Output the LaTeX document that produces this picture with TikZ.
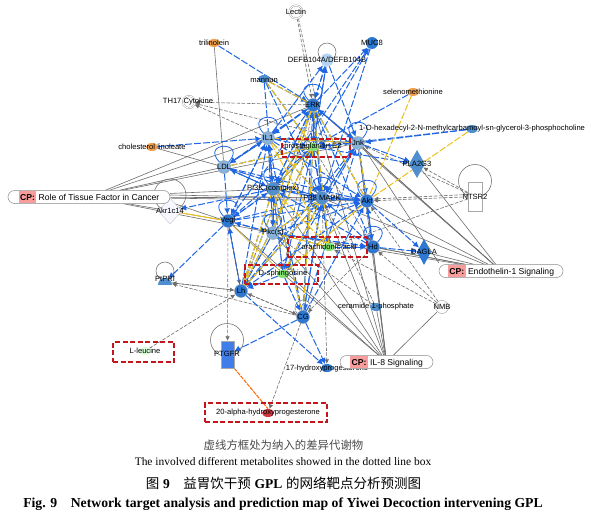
\documentclass[tikz,border=0pt]{standalone}
\usepackage{fontspec}
\setmainfont{Liberation Sans}
\newfontfamily\tnr{Liberation Serif}
\newfontfamily\cjkf{Noto Sans CJK SC}
\usetikzlibrary{shapes.geometric,arrows.meta,backgrounds}
\definecolor{bluee}{HTML}{1F66E5}
\definecolor{yell}{HTML}{EDC21A}
\definecolor{graye}{HTML}{6E6E6E}
\definecolor{dk}{HTML}{2C78D2}
\definecolor{md}{HTML}{4F8FD0}
\definecolor{lt}{HTML}{86B2DC}
\definecolor{vl}{HTML}{B4D4F2}
\definecolor{org}{HTML}{F0A050}
\definecolor{grn}{HTML}{80E070}
\definecolor{redb}{HTML}{C4141C}
\definecolor{cppink}{HTML}{F99C9C}
\tikzset{
  ball/.style={circle,inner sep=0pt,minimum size=#1,draw=graye!70,line width=.3pt},
  oval/.style={ellipse,inner sep=0pt,minimum width=12pt,minimum height=8pt},
  lab/.style={font=\fontsize{7.6}{8}\selectfont,inner sep=0pt,text=black},
  blueedge/.style={draw=bluee,line width=1pt,dash pattern=on 7pt off 2pt,-{Latex[length=6pt,width=6pt]}},
  yellowedge/.style={draw=yell,line width=1pt,dash pattern=on 7pt off 2pt},
  grayline/.style={draw=graye,line width=.6pt},
  graydash/.style={draw=graye,line width=.6pt,dash pattern=on 3.5pt off 1.6pt,-{Latex[length=4.5pt,width=4.5pt]}},
  loopb/.style={draw=bluee,line width=.8pt},
  loopg/.style={draw=graye,line width=.55pt},
  redbox/.style={draw=redb,line width=1.2pt,dash pattern=on 5pt off 2.5pt,inner sep=0pt},
  pill/.style={draw=graye!80,fill=white,rounded corners=6.5pt,minimum height=13pt,inner sep=0pt,line width=.5pt,font=\fontsize{8.6}{9}\selectfont},
  captxt/.style={inner sep=0pt,anchor=center}
}
\newcommand{\cptag}{{\setlength{\fboxsep}{0pt}\colorbox{cppink}{\rule[-3pt]{0pt}{12pt}\,\textbf{CP:}\,}}}
\newcommand{\gene}[5]{\node[ball=13pt,fill=#4] (#1) at (#2,#3) {}; \node[lab] (#1t) at (#2,#3) {#5};}
\begin{document}
\begin{tikzpicture}[x=1pt,y=-1pt]
\useasboundingbox (0,0) rectangle (591,524);
% hubs
\gene{ERK}{313}{105}{dk}{ERK}
\gene{IL}{268}{138}{lt}{IL1}
\gene{LDL}{224}{167}{lt}{LDL}
\gene{Jnk}{358}{143}{lt}{Jnk}
\gene{PI}{273}{189}{md}{PI3K (complex)}
\gene{PP}{322}{198}{md}{P38 MAPK}
\gene{Akt}{367}{201}{dk}{Akt}
\gene{Vegf}{228}{221}{dk}{Vegf}
\gene{Pkc}{273}{233}{lt}{Pkc(s)}
\gene{Hd}{373}{247}{dk}{Hd}
\gene{Lh}{241}{291}{dk}{Lh}
\gene{CG}{303}{317}{dk}{CG}
% metabolites
\node[oval,fill=org] (tril) at (214,43) {}; \node[lab] (trilt) at (214,43) {trilinolein};
\node[circle,fill=dk,minimum size=12pt,inner sep=0pt] (MUC) at (372,43) {}; \node[lab] (MUCt) at (372,43) {MUC8};
\node[circle,fill=vl,minimum size=13pt,inner sep=0pt] (DEFB) at (327,60) {}; \node[lab] (DEFBt) at (327,60) {DEFB104A/DEFB104B};
\node[oval,fill=md] (mannan) at (264,79) {}; \node[lab] (mannant) at (264,80) {mannan};
\node[oval,fill=org] (sel) at (413,92) {}; \node[lab] (selt) at (413,92) {selenomethionine};
\node[oval,fill=md] (Ohex) at (472,129) {}; \node[lab] (Ohext) at (472,129) {1-O-hexadecyl-2-N-methylcarbamoyl-sn-glycerol-3-phosphocholine};
\node[oval,fill=org] (chol) at (152,147) {}; \node[lab] (cholt) at (152,147) {cholesterol linoleate};
\node[oval,fill=grn] (PGE) at (313,147) {}; \node[lab] (PGEt) at (313,147) {prostaglandin E2};
\node[oval,fill=grn] (ara) at (329,247) {}; \node[lab] (arat) at (329,247) {arachidonic acid};
\node[oval,fill=grn] (sph) at (283,274) {}; \node[lab] (spht) at (283,274) {D-sphingosine};
\node[oval,fill=md] (cer) at (376,307) {}; \node[lab] (cert) at (376,307) {ceramide 1-phosphate};
\node[oval,fill=green!15] (leu) at (145,351) {}; \node[lab] (leut) at (145,351) {L-leucine};
\node[oval,fill=dk] (hyd) at (327,368) {}; \node[lab] (hydt) at (327,369) {17-hydroxyprogesterone};
\node[oval,fill=redb!85] (alpha) at (268,413) {}; \node[lab] (alphat) at (268,413) {20-alpha-hydroxyprogesterone};
% other shapes
\node[circle,draw=graye!70,minimum size=13pt,inner sep=0pt,double,double distance=1pt,fill=white] (Lectin) at (296,12) {}; \node[lab] (Lectint) at (296,12) {Lectin};
\node[circle,draw=graye!70,minimum size=12pt,inner sep=0pt,double,double distance=1pt,fill=white] (TH) at (189,102) {}; \node[lab] (THt) at (188,102) {TH17 Cytokine};
\node[circle,draw=graye!70,minimum size=13pt,inner sep=0pt,fill=white] (NMB) at (442,307) {}; \node[lab] (NMBt) at (442,307) {NMB};
\node[diamond,fill=md,inner sep=0pt,minimum width=16pt,minimum height=28pt] (PLA) at (417,164) {}; \node[lab] (PLAt) at (417,164) {PLA2G3};
\node[diamond,fill=dk,inner sep=0pt,minimum width=14pt,minimum height=26pt] (DAG) at (424,252) {}; \node[lab] (DAGt) at (424,252) {DAGLA};
\node[diamond,draw=graye!40,fill=blue!3,inner sep=0pt,minimum width=24pt,minimum height=26pt] (Akr) at (170,211) {}; \node[lab] (Akrt) at (170,211) {Akr1c14};
\node[draw=graye!60,fill=white,inner sep=0pt,minimum width=14pt,minimum height=29pt] (NTSR) at (475,196.5) {}; \node[lab] (NTSRt) at (475,197) {NTSR2};
\node[fill=bluee!85,draw=graye!60,inner sep=0pt,minimum width=13pt,minimum height=27pt] (PTGFR) at (227.5,354.5) {}; \node[lab] (PTGFRt) at (227,354) {PTGFR};
\node[semicircle,fill=md,inner sep=0pt,minimum width=14pt,minimum height=6pt] (PtP) at (165,282) {}; \node[lab] (PtPt) at (165,279) {PtPRI};
% pathway pills
\node[pill,minimum width=162pt] (CPa) at (89,197) {\cptag\ Role of Tissue Factor in Cancer};
\node[pill,minimum width=124pt] (CPb) at (501,271) {\cptag\ Endothelin-1 Signaling};
\node[pill,minimum width=93pt] (CPc) at (386.5,362) {\cptag\ IL-8 Signaling};
% red dashed boxes
\node[redbox,minimum width=68pt,minimum height=18pt] (boxa) at (316,148) {};
\node[redbox,minimum width=79pt,minimum height=20pt] (boxb) at (327.5,247) {};
\node[redbox,minimum width=73pt,minimum height=19pt] (boxc) at (281.5,274.5) {};
\node[redbox,minimum width=61pt,minimum height=20pt] (boxd) at (143.5,352) {};
\node[redbox,minimum width=122pt,minimum height=19pt] (boxe) at (266,412.5) {};
% edges
\begin{scope}[on background layer]
\fill[white] (0,0) rectangle (591,524);
\foreach \a/\b in {CPa/IL,CPa/LDL,CPa/ERK,CPa/PI,CPa/PP,CPa/Akt,CPa/Vegf,CPa/Pkc,CPa/Jnk,CPb/Jnk,CPb/Jnk,CPb/PLA,CPb/Akt,CPb/Pkc,CPb/PP,CPb/Hd,CPb/Hd,CPb/DAG,CPb/ERK,CPc/Pkc,CPc/PI,CPc/PP,CPc/Akt,CPc/Hd,CPc/cer,CPc/NMB,CPc/Vegf,CPc/ERK,CPc/Jnk,tril/LDL,chol/LDL,Vegf/Lh,CPc/sph}
  \draw[grayline] (\a) -- (\b);
\draw[grayline] ([yshift=1.5pt]CPb.north west) -- ([yshift=1.5pt]Jnk.south east);
\draw[grayline] ([yshift=2pt]CPa.east) -- ([yshift=2pt]Akt.west);
\draw[grayline] ([yshift=1.5pt]CPa.south east) -- ([yshift=1.5pt]Vegf.west);
\foreach \a/\b in {Lectin/ERK,IL/TH,Jnk/TH,ERK/TH,Lh/PtP,PtP/Lh,CG/PtP,Lh/CG,CG/Lh,Vegf/Lh,Lh/Vegf,leu/Lh,Vegf/PTGFR,CG/alpha,NTSR/Akt,NTSR/Jnk,NTSR/PLA,NTSR/ara,NMB/Akt,NMB/Hd,cer/PP,NMB/ara,cer/Pkc,PP/hyd,PI/sph,Akt/sph,ara/Pkc,ERK/sph,Jnk/PP,Pkc/Lh,LDL/PP,IL/Pkc,PGE/Hd,Hd/CG}
  \draw[graydash] (\a) -- (\b);
\draw[graydash] ([xshift=2.5pt]Lectin.south) -- ([xshift=2.5pt]ERK.north);
\draw[graydash] ([yshift=2pt]NTSR.west) -- ([yshift=2pt]Akt.east);
\draw[yellowedge,dash pattern=] (Akr) -- (Vegf);
\draw[draw=yell!70!graye,line width=.7pt] (Vegf) -- (sph);
\foreach \a/\b in {tril/ERK,mannan/ERK,mannan/PGE,mannan/PP,mannan/PI,IL/DEFB,ERK/DEFB,DEFB/ERK,PGE/DEFB,DEFB/PGE,DEFB/Jnk,ERK/MUC,PGE/MUC,MUC/PP,PI/MUC,sel/PGE,Ohex/Jnk,Ohex/PGE,Jnk/PLA,PGE/PLA,Akt/DAG,Hd/DAG,chol/IL,IL/LDL,LDL/IL,ERK/LDL,ERK/IL,IL/ERK,IL/PI,LDL/PI,PI/LDL,LDL/Vegf,LDL/PP,LDL/PGE,LDL/Akt,PI/Akr,Vegf/PtP,PI/Vegf,Vegf/PI,Vegf/IL,IL/Vegf,Vegf/ERK,Vegf/Pkc,Pkc/Vegf,Vegf/PP,Vegf/PGE,Vegf/Akt,Pkc/ERK,Pkc/IL,Pkc/PI,PI/Pkc,Pkc/PP,Pkc/Akt,Pkc/Lh,Lh/Vegf,Lh/PI,Lh/IL,Lh/PP,Lh/ERK,Lh/PGE,Lh/hyd,CG/PTGFR,CG/hyd,CG/ERK,CG/PGE,CG/PP,CG/PI,CG/IL,CG/Akt,CG/Jnk,PGE/PP,ERK/PP,PP/ERK,PP/Akt,Akt/PP,Akt/ERK,Akt/Jnk,Jnk/Akt,Jnk/ERK,ERK/Jnk,Jnk/PP,Jnk/PGE,IL/PGE,IL/PP,IL/Akt,IL/Jnk,ERK/PGE,PGE/ERK,ERK/PI,PI/ERK,PI/PGE,PGE/PI,PI/PP,PP/PI,PI/Akt,Hd/PP,Hd/Akt,Hd/PI,Hd/ERK,Hd/Pkc,Pkc/Hd,sph/Lh,ara/Hd,Jnk/sph,ERK/ara,PGE/ara,PP/ara,sph/PI,PGE/sph,Jnk/IL,sph/PP,PP/Lh,PP/CG,sph/CG,Jnk/Hd,Akt/Lh,Lh/Jnk}
  \draw[blueedge] (\a) -- (\b);
\foreach \a/\b in {mannan/ERK,mannan/PGE,sel/Akt,Ohex/Akt,ERK/ara,IL/ara,LDL/PGE,ERK/Lh,PGE/Lh,ERK/Pkc,Akt/sph,PP/Pkc,PI/CG,Jnk/Akt,PGE/PI,Lh/PI,ara/PI,PP/sph,ara/Pkc,IL/PP,Jnk/IL,PGE/CG,ERK/Akt,PP/Lh}
  \draw[yellowedge] (\a) -- (\b);
\draw[draw=orange!80!red,line width=1pt,dash pattern=on 4pt off 1pt] (PTGFR.south east) -- (alpha.north);
% self loops
\foreach \n in {ERK,IL,LDL,Jnk,Vegf,Akt,Hd,PP,PI}
  \draw[loopb] (\n) .. controls +(-24,-26) and +(24,-26) .. (\n);
\draw[loopb] (Pkc) .. controls +(-22,-24) and +(22,-24) .. (Pkc);
% large open loops
\draw[loopg] (327,52) circle (9pt);
\draw[loopg] (170,195) circle (16pt);
\draw[loopg] (165,271) circle (9pt);
\draw[loopg] (475,181) circle (16.5pt);
\draw[loopg] (227,340) circle (16.5pt);
\draw[loopg,dash pattern=on 3pt off 1pt] (303,308) circle (8pt);
\end{scope}
% captions
\node[captxt,text=black!70,font=\cjkf\fontsize{11.4}{12}\selectfont] (c1) at (283.5,445) {虚线方框处为纳入的差异代谢物};
\node[captxt,font=\tnr\fontsize{11.45}{12}\selectfont] (c2) at (283,462) {The involved different metabolites showed in the dotted line box};
\node[captxt,font=\fontsize{13.5}{14}\selectfont] (c3) at (283.5,483) {{\cjkf 图}\ {\tnr\bfseries 9}\quad{\cjkf 益胃饮干预}\ {\tnr\bfseries GPL}\ {\cjkf 的网络靶点分析预测图}};
\node[captxt,font=\tnr\bfseries\fontsize{13.7}{14}\selectfont] (c4) at (283,504) {Fig. 9\quad Network target analysis and prediction map of Yiwei Decoction intervening GPL};
\end{tikzpicture}
\end{document}
